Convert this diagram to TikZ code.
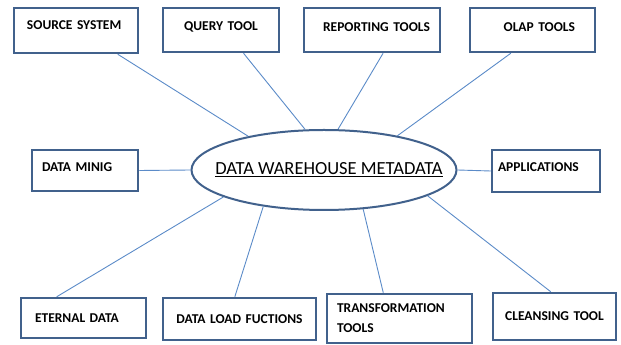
\documentclass[tikz,border=0pt]{standalone}
\usepackage{fontspec}
\setmainfont{Carlito}
\usepackage{xcolor}
\usetikzlibrary{calc}
\usetikzlibrary{shapes.geometric}

\definecolor{boxblue}{HTML}{41618C}
\definecolor{lineblue}{HTML}{5B8BC8}

\tikzset{
  box/.style={draw=boxblue, line width=2.5pt, inner sep=0pt, font=\fontsize{13.5pt}{20pt}\selectfont\bfseries},
  link/.style={draw=lineblue, line width=0.9pt},
}

\begin{document}
\begin{tikzpicture}[x=1pt,y=1pt]
\useasboundingbox (0,0) rectangle (621,345);

% centre
\node[ellipse, draw=boxblue, line width=2pt, minimum width=265pt, minimum height=80pt, inner xsep=-26pt, inner ysep=0pt, font=\fontsize{18.5pt}{20pt}\selectfont] (meta) at (324,175) {\hspace{10pt}\underline{DATA WAREHOUSE METADATA}};

% top row
\node[box, minimum width=124pt, minimum height=45pt, text width=98pt, align=left, text depth=10pt] (src) at (76,314.5) {SOURCE SYSTEM};
\node[box, minimum width=116pt, minimum height=44pt, text width=106pt, align=center, text depth=7pt] (qry) at (221,315) {QUERY TOOL};
\node[box, minimum width=136pt, minimum height=44pt, text width=116pt, align=right, text depth=5pt] (rep) at (372,315) {REPORTING TOOLS};
\node[box, minimum width=125pt, minimum height=44pt, text width=85pt, align=right, text depth=5pt] (olap) at (532.5,315) {OLAP TOOLS};

% middle row
\node[box, minimum width=106pt, minimum height=41pt, text width=86pt, align=left, text depth=6pt] (mine) at (85,174.5) {DATA MINIG};
\node[box, minimum width=108pt, minimum height=42pt, text width=96pt, align=left, text depth=7pt] (app) at (546,174) {APPLICATIONS};

% bottom row
\node[box, minimum width=125pt, minimum height=40pt, text width=97pt, align=left] (ext) at (83.5,27) {ETERNAL DATA};
\node[box, minimum width=153pt, minimum height=42pt, text width=143pt, align=center] (load) at (239.5,26) {DATA LOAD FUCTIONS};
\node[box, minimum width=145pt, minimum height=49pt, text width=125pt, align=left] (trans) at (399.5,26.5) {TRANSFORMATION\\TOOLS};
\node[box, minimum width=123pt, minimum height=47pt, text width=113pt, align=center] (clean) at (554.5,28.5) {CLEANSING TOOL};

% links
\draw[link] ($(src.south west)!.83!(src.south east)$) -- (meta.156);
\draw[link] ($(qry.south west)!.69!(qry.south east)$) -- (meta.115.5);
\draw[link] ($(rep.south west)!.58!(rep.south east)$) -- (meta.71.6);
\draw[link] ($(olap.south west)!.33!(olap.south east)$) -- (meta.25.6);
\draw[link] (mine.east) -- (meta.west);
\draw[link] (meta.east) -- (app.west);
\draw[link] ($(ext.north west)!.29!(ext.north east)$) -- (meta.195.4);
\draw[link] ($(load.north west)!.47!(load.north east)$) -- (meta.211.5);
\draw[link] ($(trans.north west)!.39!(trans.north east)$) -- (meta.315);
\draw[link] ($(clean.north west)!.47!(clean.north east)$) -- (meta.346.3);
\end{tikzpicture}
\end{document}
